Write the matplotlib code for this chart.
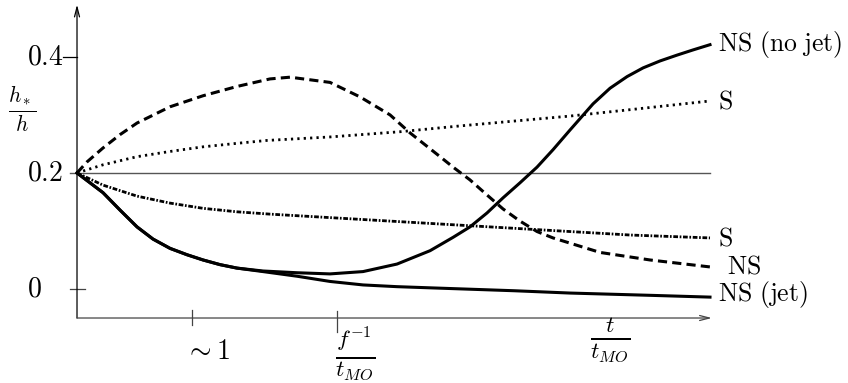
import numpy as np
import matplotlib.pyplot as plt

plt.rcParams['mathtext.fontset'] = 'cm'
plt.rcParams['font.family'] = ['DejaVu Serif']

# time in units of t_MO (the "~1" tick sits at t = 1)
t_nojet = [0, 0.226, 0.374, 0.522, 0.661, 0.809, 0.957, 1.096, 1.243, 1.391,
           1.617, 1.913, 2.2, 2.487, 2.783, 3.07, 3.27, 3.417, 3.565, 3.704,
           3.852, 4.0, 4.139, 4.287, 4.487, 4.635, 4.783, 4.922, 5.07, 5.217,
           5.357, 5.504]
ns_nojet = [0.2, 0.166, 0.136, 0.107, 0.086, 0.070, 0.059, 0.050, 0.042, 0.036,
            0.031, 0.028, 0.026, 0.030, 0.043, 0.066, 0.089, 0.107, 0.131,
            0.157, 0.183, 0.210, 0.240, 0.274, 0.319, 0.346, 0.366, 0.381,
            0.393, 0.403, 0.412, 0.421]

t_jet = [0, 0.226, 0.374, 0.522, 0.661, 0.809, 0.957, 1.096, 1.243, 1.391,
         1.617, 1.913, 2.2, 2.487, 2.783, 3.07, 3.8, 4.287, 5.0, 5.504]
ns_jet = [0.2, 0.166, 0.136, 0.107, 0.086, 0.070, 0.059, 0.050, 0.042, 0.036,
          0.030, 0.022, 0.013, 0.007, 0.004, 0.002, -0.003, -0.007, -0.011,
          -0.014]

t_dash = [0, 0.087, 0.226, 0.374, 0.522, 0.809, 1.096, 1.391, 1.678, 1.852,
          2.2, 2.461, 2.722, 2.896, 3.157, 3.27, 3.417, 3.565, 3.704, 3.852,
          4.0, 4.139, 4.287, 4.548, 4.983, 5.504]
ns_dashed = [0.2, 0.219, 0.243, 0.266, 0.286, 0.314, 0.333, 0.349, 0.362,
             0.365, 0.356, 0.331, 0.300, 0.269, 0.228, 0.210, 0.188, 0.162,
             0.138, 0.117, 0.099, 0.088, 0.079, 0.063, 0.050, 0.038]

t_dot = [0, 0.226, 0.522, 0.809, 1.096, 1.391, 1.652, 2.2, 2.809, 3.33, 4.287,
         4.809, 5.504]
s_dotted = [0.2, 0.214, 0.228, 0.237, 0.245, 0.251, 0.256, 0.262, 0.271,
            0.281, 0.298, 0.309, 0.324]

t_dashdot = [0, 0.226, 0.522, 0.809, 1.096, 1.391, 1.678, 1.939, 2.461, 2.983,
             3.678, 4.287, 4.809, 5.504]
s_dashdot = [0.2, 0.179, 0.160, 0.148, 0.139, 0.133, 0.129, 0.126, 0.120,
             0.114, 0.106, 0.099, 0.093, 0.088]

y_ticks = [0, 0.2, 0.4]
y_ticklabels = ['$0$', '$0.2$', '$0.4$']
x_ticks = [1.0, 2.26]

fig = plt.figure(figsize=(8.48, 3.83), dpi=100)
ax = fig.add_axes([0, 0, 1, 1])
ax.set_xlim(-0.6696, 6.704)
ax.set_ylim(-0.162, 0.498)
ax.axis('off')

y_floor = -0.05
arrow = dict(arrowstyle='->,head_length=0.7,head_width=0.18', lw=0.9,
             color='black', shrinkA=0, shrinkB=0)
ax.annotate('', xy=(0, 0.49), xytext=(0, y_floor), arrowprops=arrow)
ax.annotate('', xy=(5.52, y_floor), xytext=(0, y_floor),
            arrowprops=dict(arrow, color='#444444'))

# reference level
ax.plot([-0.061, 5.5], [0.2, 0.2], color='#555555', lw=1.0)

# y ticks
ax.plot([-0.122, 0], [0.4, 0.4], color='black', lw=0.9)
ax.plot([-0.061, 0.07], [0, 0], color='#444444', lw=0.9)
for yv, lab in zip(y_ticks, y_ticklabels):
    ax.text(-0.435, yv, lab, ha='left', va='center', fontsize=20)

# x ticks
ax.plot([x_ticks[0]] * 2, [-0.036, -0.062], color='#444444', lw=0.9)
ax.plot([x_ticks[1]] * 2, [-0.038, -0.074], color='#444444', lw=0.9)
ax.text(1.139, -0.107, r'$\sim 1$', ha='center', va='center', fontsize=20)
ax.text(2.417, -0.112, r'$\frac{f^{-1}}{t_{MO}}$', ha='center', va='center',
        fontsize=24)
ax.text(4.635, -0.088, r'$\frac{t}{t_{MO}}$', ha='center', va='center',
        fontsize=24)
ax.text(-0.478, 0.309, r'$\frac{h_*}{h}$', ha='center', va='center',
        fontsize=22)

# curves
ax.plot(t_nojet, ns_nojet, color='black', lw=2.2, solid_joinstyle='round')
ax.plot(t_jet, ns_jet, color='black', lw=2.2, solid_joinstyle='round')
ax.plot(t_dash, ns_dashed, color='black', lw=2.2, dashes=(3.0, 1.7))
ax.plot(t_dot, s_dotted, color='black', lw=2.0, dashes=(0.8, 1.5))
ax.plot(t_dashdot, s_dashdot, color='black', lw=2.0,
        dashes=(1.7, 0.6, 0.6, 0.6))

# curve labels
lab_kw = dict(ha='left', va='center', fontsize=18.5)
ax.text(5.574, 0.421, r'$\mathrm{NS\ (no\ jet)}$', **lab_kw)
ax.text(5.574, 0.324, r'$\mathrm{S}$', **lab_kw)
ax.text(5.574, 0.088, r'$\mathrm{S}$', **lab_kw)
ax.text(5.652, 0.040, r'$\mathrm{NS}$', **lab_kw)
ax.text(5.574, -0.010, r'$\mathrm{NS\ (jet)}$', **lab_kw)

fig.savefig('out.png', dpi=100)
